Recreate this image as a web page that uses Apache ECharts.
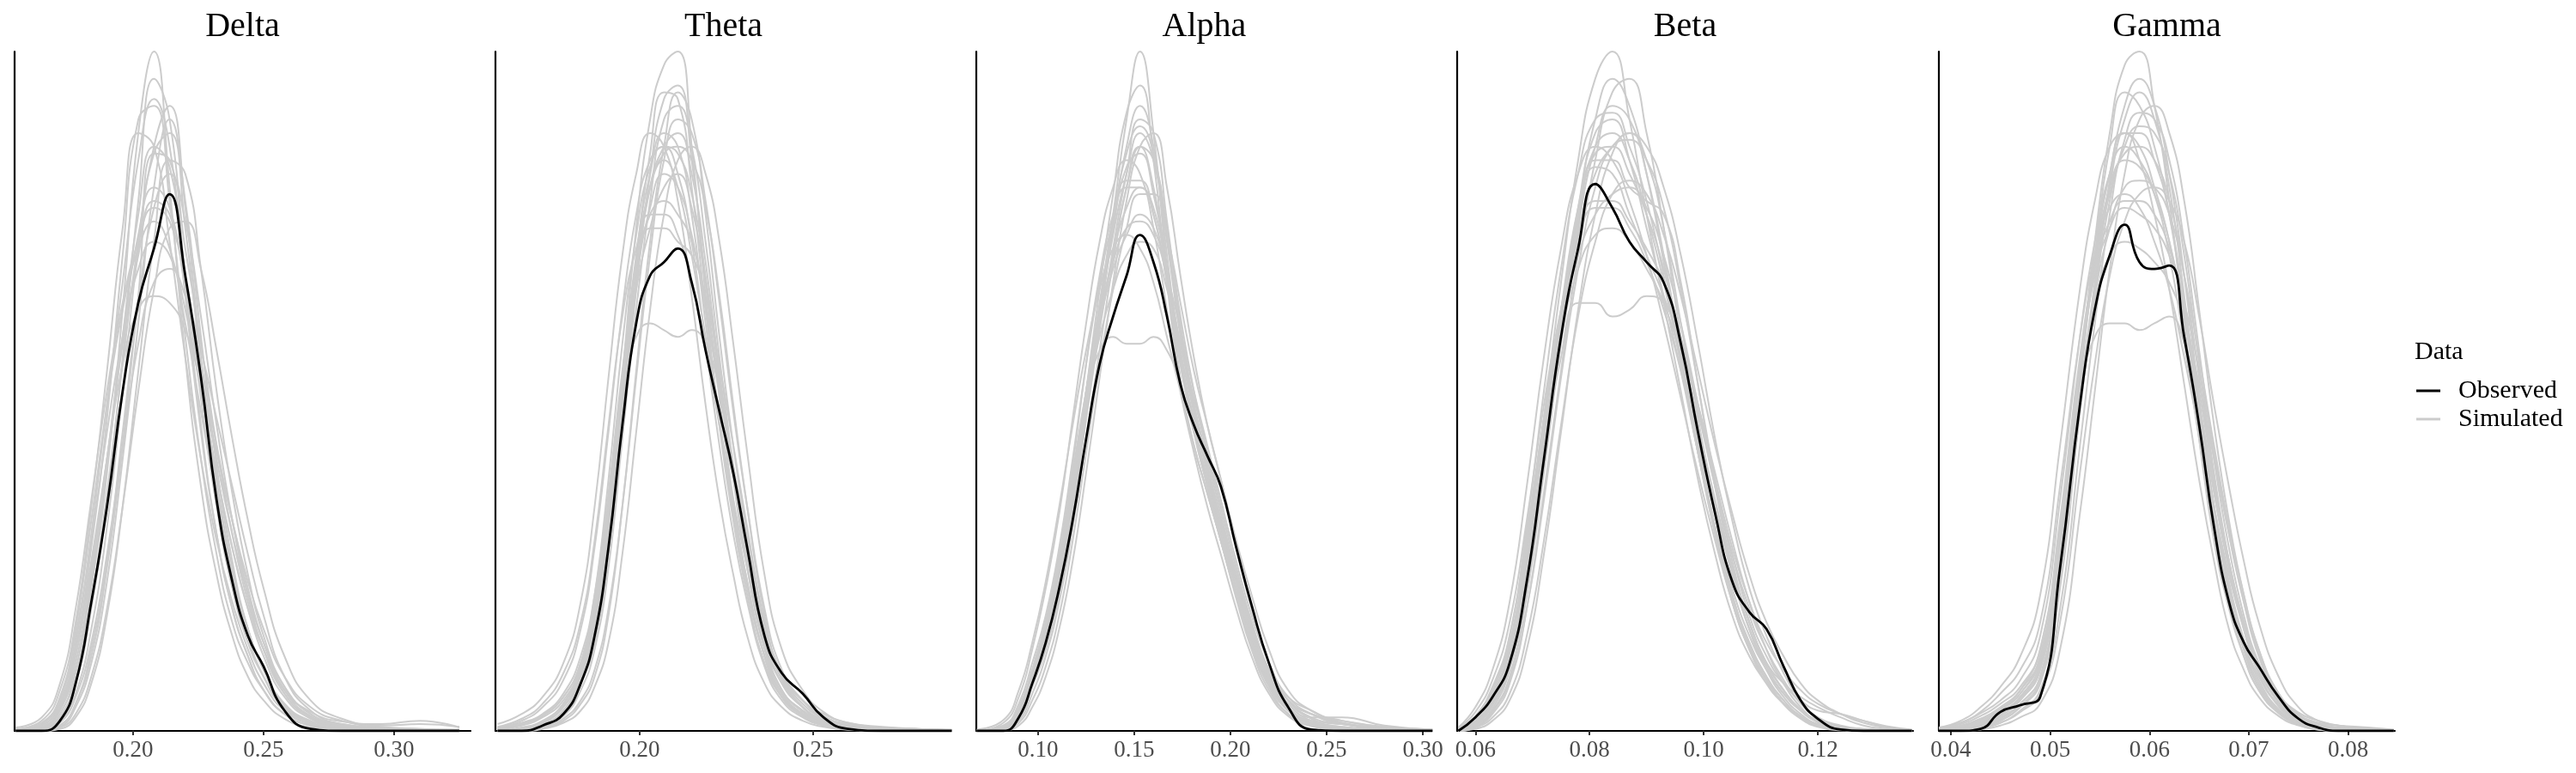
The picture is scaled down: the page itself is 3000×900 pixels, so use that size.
<!DOCTYPE html>
<html>
<head>
<meta charset="utf-8">
<title>Posterior predictive densities</title>
<script src="https://cdn.jsdelivr.net/npm/echarts@6/dist/echarts.min.js"></script>
<style>
  html, body { margin: 0; padding: 0; background: #fff; }
  #chart { width: 3000px; height: 900px; }
</style>
</head>
<body>
<div id="chart"></div>
<script>
// panel titles
const panelNames = ['Delta', 'Theta', 'Alpha', 'Beta', 'Gamma'];

// ---- Delta ----
const deltaX = [0.155, 0.165, 0.172, 0.178, 0.184, 0.190, 0.196, 0.202, 0.208, 0.214, 0.220, 0.226, 0.232, 0.238, 0.244, 0.250, 0.258, 0.268, 0.280, 0.295, 0.310, 0.325];
const deltaObserved = [0, 0, 1.5, 7, 19, 33, 50, 63, 71, 79, 67, 52, 34, 22, 14, 9.5, 3, 0.3, 0, 0, 0, 0];
const deltaSimulated = [
  [0, 0.3, 2, 8, 21, 38, 62, 88, 100, 80, 55, 36, 23, 14, 8, 4.5, 1.8, 0.5, 0.1, 0, 0, 0],
  [0, 0.8, 4, 13, 29, 48, 66, 84, 93, 86, 64, 44, 29, 18, 11, 6, 2.5, 0.8, 0.2, 0, 0, 0],
  [0, 0.1, 0.8, 4, 11, 24, 42, 64, 85, 84, 71, 57, 42, 29, 19, 12, 5.5, 2, 0.6, 0.2, 0, 0],
  [0, 0.1, 0.6, 3.5, 10, 22, 40, 60, 80, 90, 78, 58, 39, 25, 15, 9, 3.8, 1.2, 0.3, 0, 0, 0],
  [0, 1, 4.5, 14, 28, 44, 58, 68, 72, 70, 62, 50, 38, 27, 18, 11, 5, 1.8, 0.6, 0.2, 0, 0],
  [0, 0.8, 4, 12, 25, 40, 54, 62, 64, 63, 59, 51, 41, 31, 21, 13, 6, 2.2, 0.8, 0.3, 0.1, 0],
  [0, 0.3, 2, 7.5, 19, 35, 54, 72, 85, 88, 74, 54, 37, 24, 15, 9, 4, 1.3, 0.4, 0.1, 0, 0],
  [0, 0.5, 3, 10, 23, 40, 58, 73, 80, 77, 65, 51, 38, 27, 18, 12, 6, 2.8, 1.4, 1, 1.5, 0.5],
  [0, 0.6, 3.5, 12, 27, 46, 70, 90, 92, 78, 58, 40, 26, 16, 10, 6, 2.5, 0.8, 0.2, 0, 0, 0],
  [0, 0.2, 1.2, 5, 13, 26, 42, 57, 66, 68, 64, 56, 46, 36, 26, 17, 8, 3, 1, 0.4, 0.2, 0],
  [0, 0.2, 1.3, 5.5, 15, 30, 50, 71, 86, 92, 77, 55, 36, 23, 14, 8, 3.3, 1, 0.3, 0, 0, 0],
  [0, 0.6, 3.2, 11, 24, 40, 57, 70, 78, 76, 66, 53, 40, 29, 20, 13, 6.5, 2.5, 1, 0.5, 0.3, 0.2],
  [0, 0.4, 2.5, 9, 22, 39, 58, 76, 86, 83, 67, 49, 33, 21, 13, 8, 3.5, 1.2, 0.4, 0.1, 0, 0],
  [0.2, 1.2, 5, 15, 31, 48, 62, 71, 75, 71, 60, 47, 34, 23, 15, 9, 4, 1.5, 0.5, 0.1, 0, 0],
  [0, 0.1, 0.8, 4, 12, 25, 44, 63, 77, 82, 75, 61, 45, 31, 20, 12, 5.5, 2, 0.7, 0.3, 0.2, 0],
  [0, 0.3, 1.8, 7, 18, 34, 55, 78, 96, 90, 66, 45, 29, 18, 11, 6, 2.5, 0.8, 0.2, 0, 0, 0],
  [0.5, 2, 7, 18, 34, 50, 63, 72, 77, 75, 66, 54, 42, 31, 22, 15, 8, 3.5, 1.5, 0.6, 0.3, 0.1],
  [0, 0, 0.3, 2, 7, 17, 33, 53, 72, 84, 82, 68, 50, 35, 23, 14, 6.5, 2.5, 0.8, 0.3, 0.1, 0],
  [0.3, 1.5, 6, 16, 33, 53, 74, 88, 86, 72, 55, 40, 28, 19, 12, 7, 3, 1, 0.3, 0.1, 0, 0],
  [0, 0.1, 0.5, 2.5, 8, 18, 33, 50, 65, 74, 75, 68, 56, 43, 31, 21, 11, 4.5, 1.8, 0.8, 1, 0.6]
];
const deltaTicks = [0.20, 0.25, 0.30];

// ---- Theta ----
const thetaX = [0.159, 0.166, 0.172, 0.178, 0.183, 0.187, 0.191, 0.195, 0.199, 0.203, 0.207, 0.211, 0.215, 0.219, 0.223, 0.227, 0.231, 0.236, 0.241, 0.247, 0.253, 0.260, 0.270, 0.280, 0.290];
const thetaObserved = [0, 0, 0.8, 2.5, 7, 14, 27, 45, 60, 67, 69, 71, 66, 56, 47, 38, 27, 14, 8.5, 5.5, 2, 0.3, 0, 0, 0];
const thetaSimulated = [
  [0, 0.3, 1.2, 3.5, 8, 15, 30, 52, 74, 90, 98, 100, 86, 64, 45, 31, 20, 10, 5, 2.5, 1, 0.3, 0, 0, 0],
  [0, 0.5, 1.5, 4, 9, 17, 32, 52, 70, 82, 88, 86, 76, 60, 45, 32, 21, 11, 5.5, 2.5, 1, 0.4, 0.1, 0, 0],
  [0.3, 1, 2.2, 5, 10, 19, 34, 51, 65, 74, 80, 82, 77, 66, 52, 38, 25, 13, 6, 3, 1.2, 0.5, 0.2, 0, 0],
  [0, 0.2, 0.8, 2.8, 7, 13, 26, 45, 65, 82, 93, 95, 84, 66, 49, 34, 22, 11, 5, 2.2, 0.8, 0.2, 0, 0, 0],
  [0, 0.4, 1.4, 4, 9, 18, 33, 50, 58, 60, 59, 58, 59, 57, 50, 39, 28, 15, 7.5, 3.5, 1.5, 0.6, 0.2, 0.1, 0],
  [0, 0.2, 1, 3, 7.5, 14, 28, 47, 66, 80, 86, 88, 82, 69, 53, 38, 25, 12.5, 6, 3, 1.3, 0.5, 0.3, 0.2, 0.1],
  [0.4, 1.2, 2.5, 5.5, 11, 20, 35, 53, 68, 76, 78, 76, 72, 63, 51, 38, 26, 14, 7, 3.5, 1.6, 0.7, 0.4, 0.3, 0.2],
  [0, 0.1, 0.6, 2.2, 6, 12, 24, 43, 62, 78, 90, 92, 86, 72, 55, 39, 26, 13, 6, 2.8, 1, 0.3, 0, 0, 0],
  [0, 0.3, 1.2, 3.6, 8.5, 16, 31, 50, 66, 74, 74, 72, 70, 64, 54, 42, 30, 16, 8, 4, 1.8, 0.7, 0.2, 0.1, 0],
  [0, 0.2, 1, 3, 8, 15, 29, 49, 69, 85, 94, 93, 80, 62, 46, 33, 22, 11, 5, 2.3, 0.9, 0.3, 0.1, 0, 0],
  [0.5, 1.5, 3.5, 7.5, 15, 27, 44, 62, 76, 84, 86, 82, 72, 57, 42, 29, 19, 9.5, 4.5, 2, 0.8, 0.3, 0.1, 0, 0],
  [0, 0.1, 0.5, 1.8, 4.5, 9, 18, 33, 52, 70, 84, 90, 88, 78, 63, 47, 33, 18, 9, 4.5, 2, 0.8, 0.3, 0.1, 0],
  [0.2, 0.8, 2, 4.5, 9.5, 18, 33, 52, 69, 80, 84, 80, 70, 58, 47, 37, 27, 15, 8, 4, 2, 1, 0.5, 0.3, 0.1],
  [0, 0.3, 1.3, 4, 10, 20, 37, 57, 73, 83, 86, 85, 79, 67, 52, 37, 24, 12, 5.5, 2.5, 1, 0.4, 0.1, 0, 0],
  [0, 0.2, 0.9, 2.8, 7, 14, 28, 48, 67, 80, 85, 86, 84, 77, 64, 48, 33, 17, 8, 3.5, 1.4, 0.5, 0.1, 0, 0],
  [0.3, 1, 2.4, 5, 10, 18, 32, 50, 66, 77, 82, 80, 73, 62, 50, 38, 27, 15, 8, 4.5, 2.5, 1.2, 0.6, 0.3, 0.1],
  [1, 2.5, 5, 10, 19, 33, 52, 70, 82, 88, 86, 78, 64, 48, 34, 23, 14, 7, 3.5, 1.5, 0.6, 0.2, 0, 0, 0],
  [0, 0, 0.3, 1.2, 3, 6.5, 13, 26, 44, 62, 76, 84, 86, 82, 72, 57, 41, 23, 12, 6, 2.8, 1.2, 0.5, 0.2, 0],
  [0.6, 1.8, 4, 8.5, 16, 28, 45, 61, 71, 76, 76, 73, 66, 56, 45, 34, 24, 13, 7, 3.5, 1.6, 0.7, 0.3, 0.1, 0],
  [0, 0.1, 0.4, 1.5, 4, 8, 17, 33, 53, 72, 86, 94, 90, 76, 58, 42, 29, 16, 8.5, 4.5, 2.2, 1, 0.5, 0.3, 0.1]
];
const thetaTicks = [0.20, 0.25];

// ---- Alpha ----
const alphaX = [0.068, 0.082, 0.090, 0.097, 0.104, 0.111, 0.118, 0.125, 0.132, 0.139, 0.146, 0.153, 0.160, 0.167, 0.174, 0.181, 0.188, 0.195, 0.203, 0.211, 0.220, 0.230, 0.242, 0.258, 0.280, 0.305];
const alphaObserved = [0, 0, 2, 7, 13, 21, 31, 43, 54, 61, 67, 73, 69, 61, 51, 45, 40.5, 36, 27, 18.5, 10, 3.5, 0.2, 0, 0, 0];
const alphaSimulated = [
  [0, 0.3, 2.5, 8, 14, 23, 36, 50, 63, 76, 90, 100, 88, 68, 52, 42, 35, 28, 20, 13, 7, 3, 1, 0.3, 0, 0],
  [0, 0.5, 3, 8.5, 15, 24, 36, 48, 60, 70, 80, 86, 80, 68, 55, 45, 37, 30, 22, 14.5, 8, 3.5, 1.2, 0.4, 0.1, 0],
  [0, 0.8, 3.5, 9, 16, 26, 38, 50, 60, 68, 73, 76, 74, 67, 57, 48, 40, 32, 23, 15, 8.5, 4, 1.5, 0.6, 0.2, 0],
  [0, 0.2, 1.8, 6.5, 12, 20, 32, 46, 60, 74, 86, 92, 86, 70, 55, 45, 37, 29, 20, 12.5, 6.5, 2.5, 0.8, 0.2, 0, 0],
  [0, 0.6, 3, 8, 14.5, 24, 37, 49, 56, 58, 57, 57, 58, 56, 51, 44, 37, 30, 22, 15, 9, 4.5, 2, 1, 0.4, 0.1],
  [0, 0.4, 2.5, 7.5, 13.5, 22, 34, 48, 62, 74, 83, 85, 79, 68, 56, 47, 39, 31, 22.5, 14.5, 8, 3.5, 1.5, 1, 0.5, 0.2],
  [0, 0.3, 2.2, 7, 13, 21, 33, 47, 61, 73, 82, 88, 84, 72, 58, 47, 38, 30, 21, 13.5, 7, 3, 1, 0.3, 0.1, 0],
  [0, 0.6, 3.2, 9, 16, 25, 37, 49, 58, 65, 70, 72, 71, 65, 57, 49, 41, 33, 24, 16, 9, 4.5, 2.5, 1.2, 0.4, 0.1],
  [0, 0.2, 2, 7, 13, 22, 35, 50, 65, 79, 91, 95, 84, 66, 51, 42, 35, 28, 19.5, 12, 6, 2.5, 0.8, 0.2, 0, 0],
  [0, 0.5, 2.8, 8, 14, 23, 35, 48, 60, 70, 77, 80, 77, 67, 55, 46, 38, 31, 23, 15.5, 9, 5, 3, 1.2, 0.3, 0],
  [0, 0.4, 2.2, 7, 13, 22, 34, 48, 62, 75, 85, 89, 85, 73, 59, 48, 39, 31, 22, 14, 7.5, 3, 1, 0.3, 0, 0],
  [0, 0.8, 4, 10, 17, 27, 40, 54, 66, 75, 80, 80, 76, 66, 54, 44, 36, 28, 20, 13, 7, 3, 1.2, 0.5, 0.2, 0],
  [0, 0.2, 1.5, 5.5, 11, 19, 30, 43, 56, 69, 80, 86, 84, 74, 61, 50, 41, 33, 24, 16, 9, 4.5, 2.5, 1.5, 0.6, 0.1],
  [0, 0.4, 2.6, 8, 15, 25, 39, 54, 67, 76, 81, 81, 76, 66, 54, 44, 36, 29, 21, 14, 8, 4, 2, 2, 0.8, 0.2],
  [0, 0.3, 2, 7, 13, 21, 33, 46, 59, 71, 82, 90, 88, 75, 60, 48, 39, 31, 22, 14, 7.5, 3.2, 1.2, 0.4, 0.1, 0],
  [0, 0.6, 3.4, 9, 16, 25, 37, 50, 61, 69, 74, 75, 73, 67, 59, 50, 42, 34, 25, 17, 10, 5, 2.5, 1, 0.3, 0],
  [0, 1.2, 5, 12, 21, 32, 46, 60, 72, 80, 84, 82, 74, 62, 50, 41, 33, 26, 18, 11, 5.5, 2.2, 0.7, 0.2, 0, 0],
  [0, 0.1, 0.8, 3.5, 8, 15, 25, 38, 52, 66, 78, 86, 88, 80, 67, 55, 45, 37, 27, 18, 10, 4.5, 1.8, 0.6, 0.2, 0],
  [0.2, 1.6, 6, 13, 22, 33, 45, 56, 65, 71, 73, 71, 66, 58, 50, 42, 35, 28, 20, 13, 7, 3, 1.2, 0.4, 0.1, 0],
  [0, 0.2, 1.2, 4.5, 9.5, 17, 28, 41, 54, 65, 74, 79, 79, 73, 63, 53, 45, 37, 28, 20, 12, 6, 3, 1.5, 0.6, 0.2]
];
const alphaTicks = [0.10, 0.15, 0.20, 0.25, 0.30];

// ---- Beta ----
const betaX = [0.057, 0.060, 0.063, 0.066, 0.069, 0.072, 0.075, 0.078, 0.081, 0.084, 0.087, 0.090, 0.093, 0.096, 0.099, 0.102, 0.105, 0.108, 0.111, 0.114, 0.117, 0.120, 0.124, 0.128, 0.132, 0.1365];
const betaObserved = [0, 2, 5, 10, 22, 40, 58, 71, 80.5, 77, 72, 69, 66, 57, 44, 32, 22, 17.5, 15, 9.5, 4.5, 1.8, 0.2, 0, 0, 0];
const betaSimulated = [
  [0, 1.5, 4.5, 11, 26, 46, 66, 84, 96, 100, 90, 76, 63, 50, 37, 26, 17, 11, 7, 4, 2, 0.8, 0.2, 0, 0, 0],
  [0, 1, 4, 10, 24, 42, 60, 76, 86, 88, 84, 76, 66, 54, 41, 30, 20, 13, 8, 4.5, 2.2, 1, 0.3, 0.1, 0, 0],
  [0.3, 2, 6, 13, 27, 44, 58, 68, 73, 74, 72, 68, 63, 55, 45, 34, 24, 16, 10, 6, 3, 1.5, 0.6, 0.2, 0, 0],
  [0, 0.8, 3, 8, 20, 38, 57, 74, 86, 92, 90, 82, 70, 56, 42, 30, 20, 13, 8, 4.5, 2, 0.8, 0.2, 0, 0, 0],
  [0, 1.2, 4, 10, 23, 40, 55, 63, 63, 61, 62, 64, 63, 57, 47, 36, 26, 18, 12, 7.5, 4, 2, 0.8, 0.3, 0.1, 0],
  [0, 1.5, 5, 12, 27, 45, 62, 77, 85, 86, 82, 76, 68, 57, 45, 33, 23, 15, 10, 7, 5, 3.5, 2, 0.8, 0.3, 0],
  [0, 0.6, 2.5, 7, 18, 35, 53, 70, 84, 94, 96, 88, 74, 58, 43, 30, 20, 12.5, 7.5, 4, 1.8, 0.6, 0.1, 0, 0, 0],
  [0.2, 1.8, 5.5, 12.5, 28, 46, 62, 73, 78, 78, 75, 71, 66, 58, 48, 37, 27, 19, 13, 9, 6, 4, 2.5, 1.5, 0.7, 0.2],
  [0, 1, 3.8, 9.5, 22, 40, 58, 74, 84, 84, 80, 78, 76, 66, 51, 36, 24, 15, 9, 5, 2.5, 1, 0.3, 0.1, 0, 0],
  [0, 1.3, 4.5, 11, 25, 43, 61, 77, 88, 90, 84, 74, 64, 53, 41, 30, 21, 14, 9, 5.5, 3, 1.5, 0.6, 0.2, 0, 0],
  [0.2, 2, 6, 14, 30, 50, 68, 82, 90, 91, 86, 78, 67, 54, 41, 29, 19, 12, 7.5, 4, 2, 0.8, 0.2, 0, 0, 0],
  [0, 0.6, 2.8, 7.5, 18, 34, 52, 68, 80, 86, 87, 84, 77, 65, 51, 37, 25, 16, 10, 6, 3, 1.3, 0.4, 0.1, 0, 0],
  [0, 1.2, 4.2, 10.5, 24, 42, 60, 75, 83, 82, 76, 70, 64, 57, 48, 38, 28, 19, 12, 7, 3.5, 1.5, 0.6, 0.3, 0.1, 0],
  [0, 0.8, 3.3, 9, 21, 39, 58, 76, 90, 96, 92, 82, 69, 55, 41, 29, 19, 12, 7, 4, 2, 0.8, 0.3, 0.1, 0, 0],
  [0.3, 2.2, 6.5, 14, 29, 46, 60, 70, 76, 79, 80, 77, 70, 60, 48, 36, 26, 17, 11, 7, 4.5, 3, 2.5, 1.5, 0.6, 0.1],
  [0, 1, 3.8, 9.5, 22, 40, 58, 73, 82, 86, 88, 84, 74, 60, 46, 33, 23, 15, 9.5, 5.5, 3, 1.3, 0.4, 0.1, 0, 0],
  [0.5, 3.5, 9, 19, 36, 55, 71, 82, 86, 84, 78, 70, 60, 49, 38, 28, 19, 12, 7.5, 4, 2, 0.8, 0.2, 0, 0, 0],
  [0, 0.3, 1.5, 4.5, 12, 26, 44, 62, 76, 85, 88, 86, 80, 70, 57, 43, 31, 21, 14, 8.5, 4.5, 2, 0.6, 0.2, 0, 0],
  [0.4, 2.8, 7.5, 16, 31, 48, 62, 72, 77, 77, 74, 69, 62, 53, 43, 33, 24, 16, 10, 6, 3.2, 1.5, 0.5, 0.1, 0, 0],
  [0, 0.5, 2, 5.5, 14, 28, 45, 61, 72, 79, 81, 79, 73, 64, 53, 42, 32, 23, 16, 11, 7, 4.5, 2.5, 1.2, 0.5, 0.1]
];
const betaTicks = [0.06, 0.08, 0.10, 0.12];

// ---- Gamma ----
const gammaX = [0.0388, 0.041, 0.043, 0.045, 0.047, 0.049, 0.051, 0.053, 0.0545, 0.056, 0.0575, 0.059, 0.0605, 0.062, 0.0635, 0.065, 0.0665, 0.068, 0.0695, 0.071, 0.073, 0.075, 0.077, 0.079, 0.082, 0.0846];
const gammaObserved = [0, 0, 0.3, 2.8, 3.8, 5, 24, 48, 62, 70, 74.5, 69, 68, 68.5, 58, 45, 30, 19, 13, 9.5, 5, 1.8, 0.5, 0, 0, 0];
const gammaSimulated = [
  [0, 0.2, 0.8, 2, 4, 8, 24, 52, 72, 88, 98, 100, 92, 78, 60, 43, 28, 18, 11, 6, 2.8, 1.1, 0.3, 0.1, 0, 0],
  [0, 0.4, 1.2, 2.8, 5, 10, 28, 54, 70, 82, 88, 88, 84, 76, 63, 48, 33, 21, 13, 7.5, 3.2, 1.3, 0.4, 0.1, 0, 0],
  [0.3, 1, 2.2, 4, 6.5, 12, 31, 55, 68, 75, 78, 78, 76, 71, 62, 50, 37, 25, 16, 9.5, 4.2, 1.8, 0.8, 0.3, 0.1, 0],
  [0, 0.1, 0.5, 1.5, 3.5, 7, 21, 47, 65, 80, 90, 94, 90, 80, 64, 47, 31, 20, 12, 6.5, 2.8, 0.9, 0.2, 0, 0, 0],
  [0, 0.3, 1, 2.5, 5, 10, 28, 50, 58, 60, 60, 59, 60, 61, 57, 48, 36, 25, 16, 9.5, 4.5, 2, 1, 0.5, 0.2, 0],
  [0.2, 0.8, 1.8, 3.5, 6, 11, 29, 54, 69, 80, 85, 86, 84, 78, 67, 52, 37, 24, 15, 8.5, 3.8, 1.6, 0.8, 0.5, 0.3, 0.1],
  [0, 0.2, 0.7, 1.8, 4, 8, 23, 49, 66, 81, 92, 96, 92, 82, 67, 49, 33, 21, 12.5, 7, 3, 1.1, 0.3, 0, 0, 0],
  [0.2, 0.7, 1.6, 3.2, 6, 12, 30, 54, 67, 74, 77, 76, 74, 70, 63, 53, 41, 29, 19, 11.5, 5.5, 2.7, 1.5, 0.8, 0.4, 0.1],
  [0, 0.3, 1, 2.6, 5, 9.5, 26, 52, 69, 82, 88, 86, 80, 72, 61, 47, 33, 22, 13.5, 8, 3.8, 1.6, 0.5, 0.2, 0, 0],
  [0, 0.2, 0.8, 2.2, 4.5, 9, 25, 51, 70, 86, 94, 92, 86, 76, 62, 46, 31, 20, 12, 6.5, 2.8, 1.1, 0.3, 0.1, 0, 0],
  [0.4, 1.2, 2.6, 4.5, 7.5, 14, 34, 58, 72, 82, 86, 84, 79, 70, 57, 43, 29, 19, 11, 6, 2.6, 1, 0.3, 0.1, 0, 0],
  [0, 0.1, 0.4, 1.2, 3, 6, 18, 42, 60, 76, 87, 91, 90, 84, 72, 56, 40, 27, 17, 10, 4.5, 1.8, 0.6, 0.2, 0, 0],
  [0, 0.3, 1, 2.4, 4.8, 9, 25, 49, 64, 74, 80, 81, 80, 76, 67, 55, 42, 30, 20, 12, 5.5, 2.5, 1.2, 0.8, 0.5, 0.2],
  [0.2, 0.6, 1.5, 3.2, 5.5, 11, 28, 53, 68, 79, 84, 83, 79, 72, 61, 48, 35, 24, 16, 10, 5, 2.2, 0.8, 0.3, 0.1, 0],
  [0, 0.2, 0.6, 1.6, 3.6, 7.5, 22, 47, 64, 78, 86, 89, 88, 82, 70, 54, 38, 25, 15, 8.5, 3.6, 1.4, 0.4, 0.1, 0, 0],
  [0, 0.4, 1.3, 3, 5.5, 10.5, 27, 50, 63, 70, 72, 71, 69, 66, 60, 51, 40, 29, 19, 11, 5, 2.2, 1, 0.5, 0.2, 0],
  [0.5, 1.5, 3.5, 6.5, 11, 20, 42, 65, 78, 86, 88, 84, 76, 65, 51, 37, 25, 15, 9, 5, 2.2, 0.8, 0.2, 0, 0, 0],
  [0, 0, 0.2, 0.8, 2, 4, 12, 32, 50, 68, 82, 90, 92, 88, 78, 62, 45, 31, 20, 12, 5.5, 2.3, 0.8, 0.3, 0.1, 0],
  [0.3, 1.2, 2.8, 5.5, 9, 16, 36, 58, 70, 77, 79, 77, 72, 65, 55, 44, 33, 23, 15, 9, 4.2, 1.8, 0.6, 0.2, 0, 0],
  [0, 0.1, 0.4, 1.2, 2.8, 5.5, 16, 38, 54, 67, 75, 79, 80, 78, 72, 61, 48, 36, 25, 16, 8, 3.5, 1.5, 0.8, 0.4, 0.1]
];
const gammaTicks = [0.04, 0.05, 0.06, 0.07, 0.08];

// layout (pixels) and axis limits
const panelLeft = [17, 577, 1137, 1697, 2258];
const panelWidth = 531;
const panelTop = 60;
const panelHeight = 791;
const xLimits = [[0.1546, 0.3293], [0.1584, 0.2899], [0.0679, 0.3049], [0.0568, 0.1367], [0.0388, 0.0847]];

const panels = [
  { x: deltaX, obs: deltaObserved, sims: deltaSimulated, ticks: deltaTicks },
  { x: thetaX, obs: thetaObserved, sims: thetaSimulated, ticks: thetaTicks },
  { x: alphaX, obs: alphaObserved, sims: alphaSimulated, ticks: alphaTicks },
  { x: betaX, obs: betaObserved, sims: betaSimulated, ticks: betaTicks },
  { x: gammaX, obs: gammaObserved, sims: gammaSimulated, ticks: gammaTicks }
];

const FONT = 'Liberation Serif';
const SIM_COLOR = '#cccccc';
const OBS_COLOR = '#000000';

const grid = [];
const xAxis = [];
const yAxis = [];
const series = [];
const titles = [];

panels.forEach((p, i) => {
  grid.push({ left: panelLeft[i], top: panelTop, width: panelWidth, height: panelHeight, containLabel: false });
  xAxis.push({
    type: 'value', gridIndex: i,
    min: xLimits[i][0], max: xLimits[i][1],
    splitLine: { show: false },
    axisLine: { show: true, onZero: false, lineStyle: { color: '#000', width: 2.2 } },
    axisTick: { show: true, customValues: p.ticks, length: 5, lineStyle: { color: '#333', width: 2 } },
    axisLabel: {
      customValues: p.ticks, margin: 9,
      fontFamily: FONT, fontSize: 27, color: '#4d4d4d',
      formatter: v => v.toFixed(2)
    }
  });
  yAxis.push({
    type: 'value', gridIndex: i, min: 0, max: 100,
    splitLine: { show: false },
    axisLine: { show: true, onZero: false, lineStyle: { color: '#000', width: 2.2 } },
    axisTick: { show: false },
    axisLabel: { show: false }
  });
  p.sims.forEach(sim => {
    series.push({
      type: 'line', name: 'Simulated', xAxisIndex: i, yAxisIndex: i,
      data: p.x.map((v, k) => [v, sim[k]]),
      symbol: 'none', smooth: 0.5, silent: true, z: 2,
      itemStyle: { color: SIM_COLOR },
      lineStyle: { color: SIM_COLOR, width: 2 }
    });
  });
  series.push({
    type: 'line', name: 'Observed', xAxisIndex: i, yAxisIndex: i,
    data: p.x.map((v, k) => [v, p.obs[k]]),
    symbol: 'none', smooth: 0.5, silent: true, z: 3,
    itemStyle: { color: OBS_COLOR },
    lineStyle: { color: OBS_COLOR, width: 2.8 }
  });
  titles.push({
    text: panelNames[i],
    left: panelLeft[i] + panelWidth / 2, top: 11, textAlign: 'center', padding: 0,
    textStyle: { fontFamily: FONT, fontSize: 40, fontWeight: 'normal', color: '#000' }
  });
});

// legend title
titles.push({
  text: 'Data', left: 2812, top: 395, padding: 0,
  textStyle: { fontFamily: FONT, fontSize: 30, fontWeight: 'normal', color: '#000' }
});

const chart = echarts.init(document.getElementById('chart'), null, { renderer: 'canvas' });
chart.setOption({
  backgroundColor: '#fff',
  animation: false,
  textStyle: { fontFamily: FONT },
  title: titles,
  legend: {
    data: ['Observed', 'Simulated'],
    orient: 'vertical', left: 2814, top: 440, padding: 0,
    icon: 'rect', itemWidth: 28, itemHeight: 3, itemGap: 3,
    selectedMode: false,
    textStyle: { fontFamily: FONT, fontSize: 30, color: '#000', lineHeight: 30, padding: [0, 0, 0, 16] }
  },
  grid: grid,
  xAxis: xAxis,
  yAxis: yAxis,
  series: series
});
</script>
</body>
</html>
